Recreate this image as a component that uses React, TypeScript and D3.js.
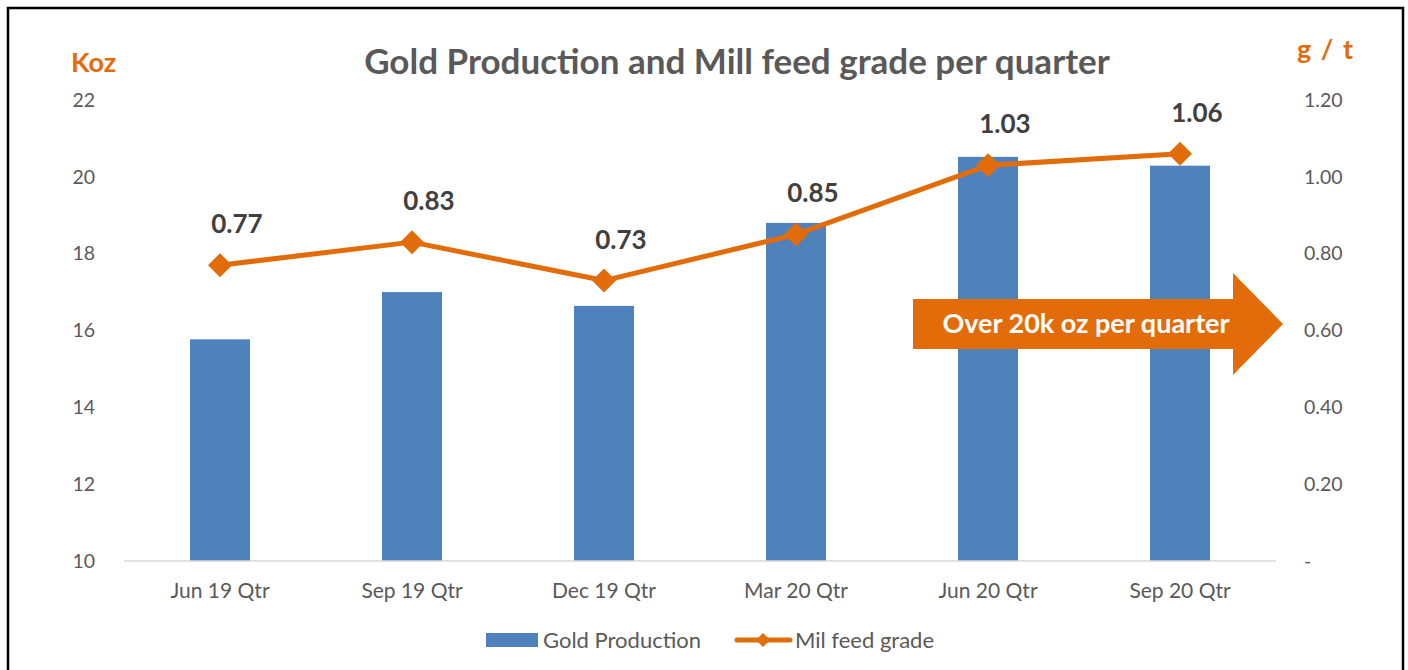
import React from "react";
import * as d3 from "d3";

// quarters on the x axis
const quarters = ["Jun 19 Qtr", "Sep 19 Qtr", "Dec 19 Qtr", "Mar 20 Qtr", "Jun 20 Qtr", "Sep 20 Qtr"];
// gold production, Koz (left axis)
const goldProduction = [15.77, 17.0, 16.64, 18.8, 20.52, 20.29];
// mill feed grade, g/t (right axis)
const millGrade = [0.77, 0.83, 0.73, 0.85, 1.03, 1.06];
const leftTicks = [10, 12, 14, 16, 18, 20, 22];
const rightTicks = [0, 0.2, 0.4, 0.6, 0.8, 1.0, 1.2];

const W = 1408;
const H = 670;
const FONT = "Lato, 'Open Sans', sans-serif";
const BLUE = "#4F81BD";
const ORANGE = "#E36C0A";
const GREY = "#595959";

const plot = { left: 124, right: 1276, top: 100, bottom: 561 };

const App: React.FC = () => {
  const x = d3.scaleBand<string>().domain(quarters).range([plot.left, plot.right]).paddingInner(0.6875).paddingOuter(0.34375);
  const yLeft = d3.scaleLinear().domain([10, 22]).range([plot.bottom, plot.top]);
  const yRight = d3.scaleLinear().domain([0, 1.2]).range([plot.bottom, plot.top]);

  const cx = (q: string) => (x(q) ?? 0) + x.bandwidth() / 2;
  const linePath = d3.line<number>()
    .x((_, i) => cx(quarters[i]))
    .y((d) => yRight(d))(millGrade) ?? "";

  const diamond = (px: number, py: number, r: number) =>
    `M${px},${py - r}L${px + r},${py}L${px},${py + r}L${px - r},${py}Z`;

  // arrow callout
  const ar = { x0: 913, x1: 1233, tip: 1283, yTop: 299, yBot: 349, hTop: 273, hBot: 375 };
  const arMid = (ar.yTop + ar.yBot) / 2;
  const arrowPath = `M${ar.x0},${ar.yTop}L${ar.x1},${ar.yTop}L${ar.x1},${ar.hTop}L${ar.tip},${arMid}L${ar.x1},${ar.hBot}L${ar.x1},${ar.yBot}L${ar.x0},${ar.yBot}Z`;

  return (
    <svg width={W} height={H} style={{ position: "absolute", left: 0, top: 0, display: "block" }} fontFamily={FONT}>
      <rect x={0} y={0} width={W} height={H} fill="#fff" />
      <rect x={8} y={8} width={1395} height={700} fill="none" stroke="#000" strokeWidth={2.5} />

      <text x={737} y={74} textAnchor="middle" fontSize={35} fontWeight={700} fill={GREY}>
        Gold Production and Mill feed grade per quarter
      </text>
      <text x={71} y={72} fontSize={27} fontWeight={700} fill={ORANGE}>Koz</text>
      <text x={1297} y={59} fontSize={27} fontWeight={700} fill={ORANGE} letterSpacing={1.5}>g / t</text>

      {/* left axis labels */}
      {leftTicks.map((t) => (
        <text key={t} x={95} y={yLeft(t)} dy="0.35em" textAnchor="end" fontSize={19.5} fill={GREY}>{t}</text>
      ))}
      {/* right axis labels */}
      {rightTicks.map((t) => (
        <text key={t} x={1304} y={yRight(t)} dy="0.35em" fontSize={19.5} fill={GREY}>
          {t === 0 ? "-" : t.toFixed(2)}
        </text>
      ))}

      {/* bars */}
      {quarters.map((q, i) => (
        <rect key={q} x={x(q)} y={yLeft(goldProduction[i])} width={x.bandwidth()}
          height={yLeft(10) - yLeft(goldProduction[i])} fill={BLUE} />
      ))}

      <line x1={plot.left} x2={plot.right} y1={plot.bottom} y2={plot.bottom} stroke="#D9D9D9" strokeWidth={1.5} />

      {quarters.map((q) => (
        <text key={q} x={cx(q)} y={598} textAnchor="middle" fontSize={21} fill={GREY}>{q}</text>
      ))}

      {/* grade line */}
      <path d={linePath} fill="none" stroke={ORANGE} strokeWidth={5} strokeLinejoin="round" />
      {millGrade.map((v, i) => (
        <g key={i}>
          <path d={diamond(cx(quarters[i]), yRight(v), 12)} fill={ORANGE} />
          <text x={cx(quarters[i]) + 17} y={yRight(v) - 32} textAnchor="middle" fontSize={26} fontWeight={700} fill="#404040">
            {v.toFixed(2)}
          </text>
        </g>
      ))}

      {/* arrow callout */}
      <path d={arrowPath} fill={ORANGE} />
      <text x={1086} y={arMid} dy="0.35em" textAnchor="middle" fontSize={27} fontWeight={700} fill="#fff">
        Over 20k oz per quarter
      </text>

      {/* legend */}
      <rect x={486} y={633} width={52} height={14} fill={BLUE} />
      <text x={543} y={640} dy="0.35em" fontSize={22} fill={GREY}>Gold Production</text>
      <line x1={737} x2={790} y1={640} y2={640} stroke={ORANGE} strokeWidth={5} strokeLinecap="round" />
      <path d={diamond(763, 640, 7)} fill={ORANGE} />
      <text x={795} y={640} dy="0.35em" fontSize={22} fill={GREY}>Mil feed grade</text>
    </svg>
  );
};

export default App;
